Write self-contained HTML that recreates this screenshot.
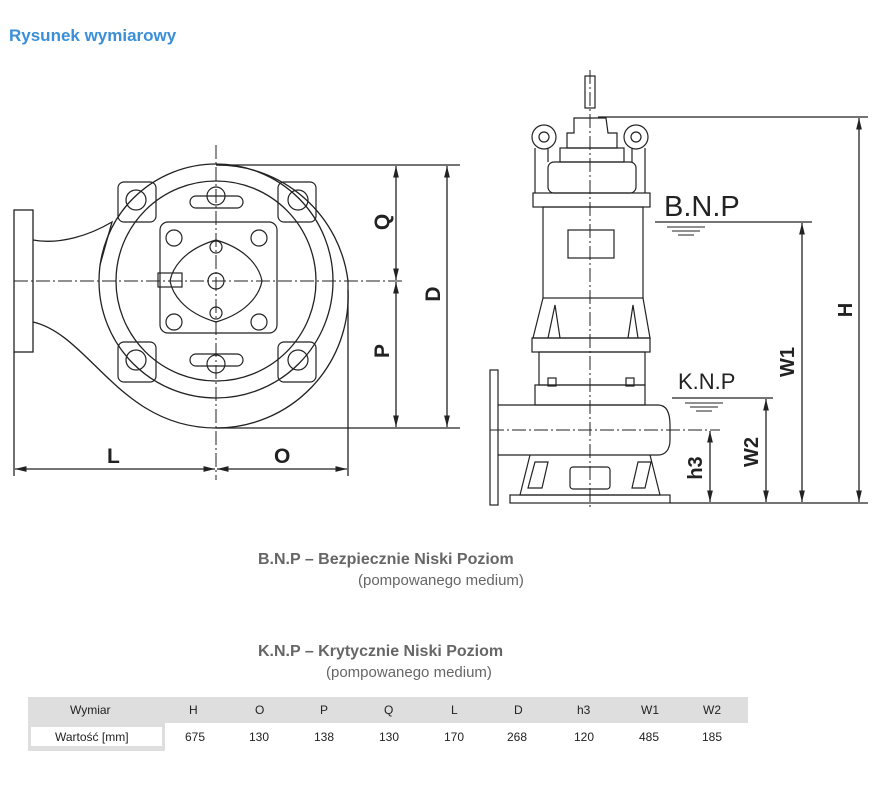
<!DOCTYPE html>
<html><head><meta charset="utf-8"><style>
body{margin:0;background:#fff;width:877px;height:806px;overflow:hidden;position:relative;font-family:"Liberation Sans",sans-serif}
.t{position:absolute;white-space:nowrap}
</style></head><body>
<div class="t" style="left:9px;top:26px;color:#3a8fd8;font-weight:bold;font-size:17px">Rysunek wymiarowy</div>
<svg width="877" height="806" style="position:absolute;left:0;top:0" fill="none" stroke="#222" stroke-width="1.3">
<defs><marker id="a" viewBox="0 0 10 10" refX="10" refY="5" markerWidth="9" markerHeight="9" orient="auto-start-reverse"><path d="M0,2.5L10,5L0,7.5" fill="#222" stroke="none"/></marker></defs>
<!-- LEFT VIEW -->
<rect x="14" y="210" width="19" height="142"/>
<path d="M33,240 C60,245 90,235 112,222 L100,265"/>
<path d="M33,322 C90,335 120,428 216,428 A132,132 0 0 0 348,290 L348,281"/>
<path d="M216,165 A132,132 0 0 1 348,281"/>
<circle cx="216" cy="281" r="117"/>
<circle cx="216" cy="281" r="100"/>
<g stroke-width="1.2">
<rect x="118" y="182" width="38" height="40" rx="6"/><circle cx="136" cy="200" r="10"/>
<rect x="278" y="182" width="38" height="40" rx="6"/><circle cx="298" cy="200" r="10"/>
<rect x="118" y="342" width="38" height="40" rx="6"/><circle cx="136" cy="360" r="10"/>
<rect x="278" y="342" width="38" height="40" rx="6"/><circle cx="298" cy="360" r="10"/>
<rect x="160" y="222" width="117" height="111" rx="8"/>
<circle cx="174" cy="238" r="8"/><circle cx="259" cy="238" r="8"/><circle cx="174" cy="322" r="8"/><circle cx="259" cy="322" r="8"/>
<path d="M216,240 C250,250 260,270 262,281 C260,292 250,312 216,322 C182,312 172,292 170,281 C172,270 182,250 216,240Z"/>
<circle cx="216" cy="281" r="8"/><circle cx="216" cy="247" r="6"/><circle cx="216" cy="313" r="6"/>
<rect x="158" y="273" width="24" height="14"/>
<rect x="190" y="196" width="53" height="12" rx="6"/><circle cx="216" cy="196" r="9"/>
<rect x="190" y="354" width="53" height="12" rx="6"/><circle cx="216" cy="364" r="9"/>
</g>
<g stroke-width="1" stroke-dasharray="14,3,2,3"><line x1="216" y1="145" x2="216" y2="480"/><line x1="14" y1="281" x2="404" y2="281"/></g>
<line x1="216" y1="165" x2="460" y2="165"/><line x1="216" y1="428" x2="460" y2="428"/>
<line x1="396" y1="166" x2="396" y2="280" marker-start="url(#a)" marker-end="url(#a)"/>
<line x1="396" y1="282" x2="396" y2="427" marker-start="url(#a)" marker-end="url(#a)"/>
<line x1="447" y1="166" x2="447" y2="427" marker-start="url(#a)" marker-end="url(#a)"/>
<line x1="14" y1="352" x2="14" y2="476"/><line x1="348" y1="290" x2="348" y2="476"/>
<line x1="15" y1="469" x2="215" y2="469" marker-start="url(#a)" marker-end="url(#a)"/>
<line x1="217" y1="469" x2="347" y2="469" marker-start="url(#a)" marker-end="url(#a)"/>
<g fill="#222" stroke="none" font-weight="bold" font-size="21" font-family="Liberation Sans,sans-serif">
<text x="107" y="463">L</text><text x="274" y="463">O</text>
<text transform="translate(389,222) rotate(-90)" text-anchor="middle">Q</text>
<text transform="translate(389,351) rotate(-90)" text-anchor="middle">P</text>
<text transform="translate(440,294) rotate(-90)" text-anchor="middle">D</text>
</g>
<!-- RIGHT VIEW -->
<g stroke-width="1.2">
<rect x="585" y="76" width="10" height="32"/>
<path d="M574,118 L606,118 L608,133 L617,133 L617,148 L567,148 L567,133 L574,133Z"/>
<rect x="560" y="148" width="64" height="14"/>
<rect x="548" y="162" width="88" height="31" rx="6"/>
<circle cx="544" cy="137" r="12"/><circle cx="544" cy="137" r="5"/>
<circle cx="636" cy="137" r="12"/><circle cx="636" cy="137" r="5"/>
<path d="M535,148 L535,193 M548,148 L548,162 M645,148 L645,193 M632,148 L632,162"/>
<rect x="533" y="193" width="117" height="14"/>
<rect x="543" y="207" width="100" height="91"/>
<rect x="568" y="230" width="46" height="28"/>
<path d="M543,298 L533,338 L650,338 L643,298"/>
<path d="M548,338 L555,305 L560,338 M628,338 L633,305 L638,338"/>
<rect x="532" y="338" width="118" height="14"/>
<rect x="539" y="352" width="106" height="33"/>
<rect x="535" y="385" width="110" height="20"/>
<rect x="548" y="378" width="8" height="8"/><rect x="626" y="378" width="8" height="8"/>
<rect x="490" y="370" width="8" height="135"/>
<path d="M498,405 L658,405 C668,405 670,415 670,425 L670,440 C670,450 665,455 658,455 L498,455"/>
<path d="M530,455 L520,495 L660,495 L650,455"/>
<rect x="510" y="495" width="160" height="8"/>
<path d="M528,488 L535,462 L548,462 L542,488Z M632,488 L638,462 L651,462 L645,488Z"/><rect x="570" y="467" width="40" height="22" rx="3"/>
</g>
<g stroke-width="1" stroke-dasharray="14,3,2,3"><line x1="590" y1="70" x2="590" y2="510"/><line x1="490" y1="430" x2="720" y2="430"/></g>
<line x1="598" y1="117" x2="868" y2="117"/><line x1="670" y1="503" x2="868" y2="503"/>
<line x1="655" y1="222" x2="812" y2="222"/><line x1="672" y1="398" x2="773" y2="398"/>
<path d="M667,227 H705 M672,231 H700 M678,235 H694 M685,403 H723 M690,407 H718 M696,411 H712" stroke-width="1"/>
<line x1="859" y1="118" x2="859" y2="502" marker-start="url(#a)" marker-end="url(#a)"/>
<line x1="802" y1="223" x2="802" y2="502" marker-start="url(#a)" marker-end="url(#a)"/>
<line x1="766" y1="399" x2="766" y2="502" marker-start="url(#a)" marker-end="url(#a)"/>
<line x1="710" y1="431" x2="710" y2="502" marker-start="url(#a)" marker-end="url(#a)"/>
<g fill="#222" stroke="none" font-family="Liberation Sans,sans-serif">
<text x="664" y="216" font-size="29">B.N.P</text>
<text x="678" y="389" font-size="22">K.N.P</text>
<g font-weight="bold" font-size="20">
<text transform="translate(852,310) rotate(-90)" text-anchor="middle">H</text>
<text transform="translate(794,362) rotate(-90)" text-anchor="middle">W1</text>
<text transform="translate(758,452) rotate(-90)" text-anchor="middle">W2</text>
<text transform="translate(702,468) rotate(-90)" text-anchor="middle">h3</text>
</g></g>
</svg>
<div class="t" style="left:258px;top:551px;color:#666;font-size:16px;font-weight:bold">B.N.P – Bezpiecznie Niski Poziom</div>
<div class="t" style="left:358px;top:572px;color:#666;font-size:15px">(pompowanego medium)</div>
<div class="t" style="left:258px;top:643px;color:#666;font-size:16px;font-weight:bold">K.N.P – Krytycznie Niski Poziom</div>
<div class="t" style="left:326px;top:664px;color:#666;font-size:15px">(pompowanego medium)</div>
<div style="position:absolute;left:28px;top:697px;width:720px;height:26px;background:#dedede"></div>
<div style="position:absolute;left:28px;top:723px;width:137px;height:28px;background:#dedede"></div>
<div style="position:absolute;left:31px;top:727px;width:131px;height:19px;background:#fff"></div>
<div style="position:absolute;left:0;top:703px;font-size:12px;color:#222">
<span class="t" style="left:70px;top:0">Wymiar</span><span class="t" style="left:189px">H</span><span class="t" style="left:255px">O</span><span class="t" style="left:320px">P</span><span class="t" style="left:384px">Q</span><span class="t" style="left:451px">L</span><span class="t" style="left:514px">D</span><span class="t" style="left:577px">h3</span><span class="t" style="left:641px">W1</span><span class="t" style="left:703px">W2</span>
</div>
<div style="position:absolute;left:0;top:730px;font-size:12px;color:#222">
<span class="t" style="left:55px">Wartość [mm]</span><span class="t" style="left:185px">675</span><span class="t" style="left:249px">130</span><span class="t" style="left:314px">138</span><span class="t" style="left:379px">130</span><span class="t" style="left:444px">170</span><span class="t" style="left:507px">268</span><span class="t" style="left:574px">120</span><span class="t" style="left:639px">485</span><span class="t" style="left:702px">185</span>
</div>
</body></html>
